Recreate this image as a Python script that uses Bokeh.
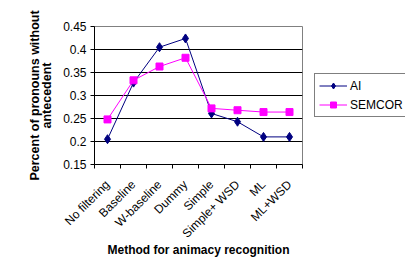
from bokeh.plotting import figure
from bokeh.models import FixedTicker, Legend, LegendItem, Range1d
from bokeh.embed import file_html
from bokeh.resources import INLINE
import numpy as np

categories = ["No filtering", "Baseline", "W-baseline", "Dummy", "Simple",
              "Simple+ WSD", "ML", "ML+WSD"]
ai = [0.205, 0.328, 0.405, 0.424, 0.261, 0.243, 0.210, 0.210]
semcor = [0.248, 0.333, 0.363, 0.382, 0.272, 0.268, 0.264, 0.264]
y_ticks = [0.15, 0.2, 0.25, 0.3, 0.35, 0.4, 0.45]

FONT = "Liberation Sans"

p = figure(frame_width=208, frame_height=138, output_backend="svg", toolbar_location=None,
           x_range=Range1d(0, len(categories)), y_range=Range1d(0.15, 0.45),
           min_border_left=94, min_border_right=103, min_border_top=26,
           min_border_bottom=109)
p.background_fill_color = "white"
p.border_fill_color = "white"
p.outline_line_color = "#808080"
p.outline_line_width = 1

x = np.arange(len(categories)) + 0.5

# X axis
p.xaxis.ticker = FixedTicker(ticks=list(x), minor_ticks=list(range(len(categories) + 1)))
p.xaxis.major_label_overrides = {float(xi): c for xi, c in zip(x, categories)}
p.xaxis.major_label_orientation = np.pi / 4
p.xaxis.major_tick_out = 0
p.xaxis.major_tick_in = 0
p.xaxis.minor_tick_out = 4
p.xaxis.minor_tick_in = 0
p.xaxis.minor_tick_line_color = "black"
p.xaxis.axis_line_color = "black"
p.xaxis.major_label_text_font = FONT
p.xaxis.major_label_text_font_size = "12px"
p.xaxis.major_label_text_color = "black"
p.xaxis.major_label_standoff = 14
p.xaxis.axis_label = "Method for animacy recognition"
p.xaxis.axis_label_text_font = FONT
p.xaxis.axis_label_text_font_size = "12px"
p.xaxis.axis_label_text_font_style = "bold"
p.xaxis.axis_label_text_color = "black"
p.xaxis.axis_label_standoff = -5

# Y axis
p.yaxis.ticker = FixedTicker(ticks=y_ticks, minor_ticks=[])
p.yaxis.major_label_overrides = {t: f"{t:g}" for t in y_ticks}
p.yaxis.major_tick_out = 4
p.yaxis.major_tick_in = 0
p.yaxis.major_tick_line_color = "black"
p.yaxis.axis_line_color = "black"
p.yaxis.major_label_text_font = FONT
p.yaxis.major_label_text_font_size = "12px"
p.yaxis.major_label_text_color = "black"
p.yaxis.major_label_standoff = 4
p.yaxis.axis_label = "Percent of pronouns without\nantecedent"
p.yaxis.axis_label_text_font = FONT
p.yaxis.axis_label_text_font_size = "12.5px"
p.yaxis.axis_label_text_font_style = "bold"
p.yaxis.axis_label_text_color = "black"
p.yaxis.axis_label_text_line_height = 0.85
p.yaxis.axis_label_standoff = 6

p.xgrid.grid_line_color = None
p.ygrid.ticker = FixedTicker(ticks=y_ticks[1:-1])
p.ygrid.grid_line_color = "black"
p.ygrid.grid_line_width = 1

ai_line = p.line(x, ai, line_color="#000080", line_width=1)
ai_pts = p.scatter(x, ai, marker="diamond", size=9, fill_color="#000080",
                   line_color="#000080")
se_line = p.line(x, semcor, line_color="#FF00FF", line_width=1)
se_pts = p.scatter(x, semcor, marker="square", size=7, fill_color="#FF00FF",
                   line_color="#FF00FF")

legend = Legend(items=[LegendItem(label="AI", renderers=[ai_line, ai_pts]),
                       LegendItem(label="SEMCOR", renderers=[se_line, se_pts])],
                location="center_left")
legend.border_line_color = "black"
legend.border_line_width = 1
legend.background_fill_color = "white"
legend.label_text_font = FONT
legend.label_text_font_size = "12px"
legend.label_text_color = "black"
legend.glyph_width = 28
legend.glyph_height = 15
legend.label_height = 15
legend.label_standoff = 3
legend.spacing = 4
legend.padding = 4
legend.margin = 12
p.add_layout(legend, "right")

open("out.html", "w").write(file_html(p, INLINE))
